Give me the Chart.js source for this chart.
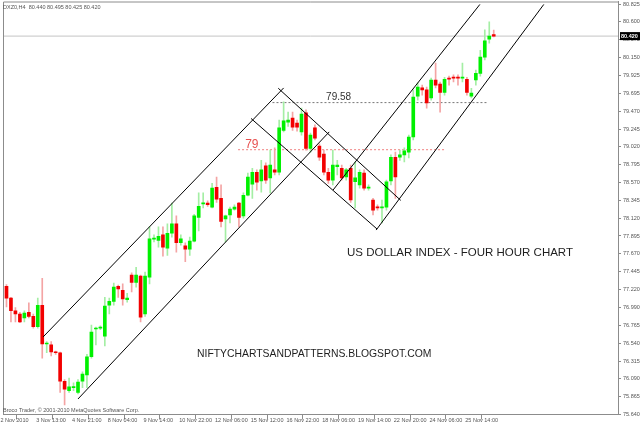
<!DOCTYPE html>
<html>
<head>
<meta charset="utf-8">
<script src="https://cdn.jsdelivr.net/npm/chart.js@4.4.0/dist/chart.umd.min.js"></script>
<style>
html, body { margin: 0; padding: 0; background: #fff; }
#wrap { width: 640px; height: 426px; }
</style>
</head>
<body>
<div id="wrap"><canvas id="mainChart" width="640" height="426"></canvas></div>
<script>
// DXZ0 four hour bars, 2 Nov - 25 Nov 2010
const timeLabels = ['2 Nov 2010', '3 Nov 13:00', '4 Nov 21:00', '8 Nov 04:00', '9 Nov 14:00', '10 Nov 22:00',
    '12 Nov 06:00', '15 Nov 12:00', '16 Nov 22:00', '18 Nov 06:00', '19 Nov 14:00', '22 Nov 20:00',
    '24 Nov 06:00', '25 Nov 14:00'];
const labelBars = [0, 8, 16, 24, 32, 40, 48, 56, 64, 72, 80, 88, 96, 104];

const open = [
    77.34, 77.26, 77.11, 76.95, 76.91, 76.86, 76.93, 76.88, 76.75, 77.02,
    76.53, 76.52, 76.43, 76.42, 76.06, 75.94, 75.98, 75.92, 76.06, 76.14,
    76.37, 76.72, 76.73, 76.63, 77.02, 77.07, 77.26, 77.21, 77.09, 77.40,
    77.31, 77.39, 76.91, 77.375, 77.856, 77.84, 77.91, 77.74, 77.93, 78.05,
    77.81, 77.77, 77.73, 77.83, 78.13, 78.30, 78.31, 78.26, 78.51, 78.37,
    78.11, 78.16, 78.235, 78.31, 78.15, 78.41, 78.55, 78.70, 78.59, 78.78,
    78.63, 78.73, 78.70, 79.23, 79.334, 79.385, 79.32, 79.21, 79.45, 79.00,
    79.26, 79.03, 78.93, 78.70, 78.60, 78.77, 78.75, 78.64, 78.75, 78.58,
    78.54, 78.69, 78.50, 78.35, 78.26, 78.25, 78.26, 78.59, 78.89, 78.89,
    78.92, 78.955, 79.145, 79.66, 79.765, 79.74, 79.64, 79.865, 79.815, 79.71,
    79.89, 79.90, 79.90, 79.89, 79.875, 79.66, 79.865, 79.95, 80.155, 80.38,
    80.44
];
const high = [
    77.36, 77.28, 77.12, 76.99, 76.93, 76.95, 77.05, 76.91, 77.11, 77.36,
    76.56, 76.56, 76.44, 76.43, 76.08, 76.10, 76.04, 76.08, 76.18, 76.40,
    76.77, 76.745, 76.76, 77.12, 77.11, 77.30, 77.275, 77.29, 77.17, 77.43,
    77.50, 77.40, 77.44, 78.01, 77.91, 78.01, 78.01, 78.05, 78.31, 78.15,
    77.91, 77.81, 77.88, 78.17, 78.44, 78.44, 78.34, 78.56, 78.64, 78.54,
    78.16, 78.26, 78.29, 78.32, 78.44, 78.69, 78.75, 78.73, 78.85, 78.82,
    78.98, 79.01, 79.36, 79.59, 79.46, 79.46, 79.36, 79.51, 79.49, 79.195,
    79.30, 79.06, 78.98, 78.75, 78.98, 78.85, 78.79, 78.75, 78.79, 78.83,
    78.73, 78.73, 78.54, 78.37, 78.29, 78.35, 78.60, 78.92, 78.955, 78.98,
    79.01, 79.17, 79.74, 79.83, 79.80, 79.775, 79.89, 80.08, 79.84, 79.90,
    79.915, 79.93, 79.93, 80.08, 79.90, 79.76, 79.99, 80.24, 80.50, 80.60,
    80.495
];
const low = [
    77.21, 77.00, 76.81, 76.81, 76.80, 76.81, 76.86, 76.73, 76.73, 76.35,
    76.42, 76.38, 76.40, 75.92, 75.76, 75.92, 75.94, 75.90, 75.98, 75.98,
    76.35, 76.52, 76.71, 76.505, 76.91, 77.02, 77.12, 77.02, 77.06, 77.19,
    77.25, 76.81, 76.88, 77.29, 77.82, 77.755, 77.64, 77.65, 77.88, 77.69,
    77.78, 77.57, 77.65, 77.82, 77.96, 78.25, 78.27, 78.25, 78.32, 78.01,
    77.82, 78.06, 78.22, 78.01, 78.12, 78.40, 78.37, 78.475, 78.45, 78.56,
    78.44, 78.665, 78.665, 79.21, 79.28, 79.23, 79.22, 79.17, 78.98, 78.955,
    79.11, 78.85, 78.665, 78.56, 78.54, 78.665, 78.60, 78.60, 78.32, 78.25,
    78.50, 78.475, 78.475, 78.16, 78.22, 78.06, 78.22, 78.54, 78.37, 78.85,
    78.83, 78.88, 79.11, 79.61, 79.675, 79.51, 79.61, 79.765, 79.46, 79.675,
    79.80, 79.84, 79.80, 79.84, 79.675, 79.64, 79.80, 79.915, 80.12, 80.33,
    80.41
];
const close = [
    77.25, 77.11, 76.95, 76.91, 76.81, 76.92, 76.88, 76.75, 77.02, 76.53,
    76.54, 76.43, 76.42, 76.06, 75.96, 75.99, 75.99, 76.05, 76.15, 76.37,
    76.68, 76.73, 76.745, 77.01, 77.07, 77.25, 77.225, 77.10, 77.11, 77.31,
    77.40, 76.87, 77.39, 77.86, 77.87, 77.89, 77.755, 77.93, 78.05, 77.81,
    77.86, 77.73, 77.83, 78.15, 78.27, 78.31, 78.29, 78.50, 78.36, 78.08,
    78.15, 78.235, 78.26, 78.13, 78.41, 78.64, 78.70, 78.575, 78.73, 78.60,
    78.79, 78.70, 79.26, 79.35, 79.359, 79.27, 79.27, 79.435, 79.00, 79.17,
    79.13, 78.89, 78.70, 78.60, 78.79, 78.79, 78.63, 78.73, 78.35, 78.63,
    78.70, 78.50, 78.51, 78.22, 78.25, 78.26, 78.58, 78.89, 78.64, 78.92,
    78.97, 79.145, 79.65, 79.775, 79.74, 79.575, 79.865, 79.80, 79.71, 79.875,
    79.875, 79.89, 79.89, 79.90, 79.71, 79.70, 79.95, 80.155, 80.36, 80.42,
    80.42
];

const priceTicks = [75.640, 75.865, 76.090, 76.315, 76.540, 76.765, 76.990, 77.220, 77.445, 77.670,
    77.895, 78.120, 78.345, 78.570, 78.795, 79.020, 79.245, 79.470, 79.695, 79.925,
    80.150, 80.375, 80.600, 80.825];

// hand drawn channel lines: [bar, price] -> [bar, price]
const channelLines = [
    [[9.2, 76.62], [63.0, 79.765]],
    [[17.0, 75.836], [73.2, 79.21]],
    [[61.8, 79.761], [89.2, 78.345]],
    [[55.7, 79.38], [83.9, 77.983]],
    [[74.05, 78.475], [106.9, 80.82]],
    [[83.7, 77.97], [121.2, 80.82]]
];
// horizontal levels: price, from bar, to bar
const levelHigh = [79.58, 60.5, 108.7];
const levelLow = [78.985, 52.8, 98.9];

const xMin = 0.22, xMax = 137.8;
const yMin = 75.64, yMax = 80.857;
const lastPrice = close[close.length - 1];

document.addEventListener("DOMContentLoaded", () => {
    const ctx = document.getElementById('mainChart');
    const up = close.map((c, i) => c >= open[i]);
    const font = '"Liberation Sans", Arial, sans-serif';

    const extras = {
        id: 'extras',
        afterDraw(chart) {
            const { ctx, chartArea: a, scales: { x, y } } = chart;
            ctx.save();
            ctx.strokeStyle = '#8c8c8c';
            ctx.lineWidth = 1;
            ctx.beginPath();
            ctx.moveTo(a.left + 0.5, a.bottom);
            ctx.lineTo(a.left + 0.5, a.top + 0.5);
            ctx.lineTo(a.right, a.top + 0.5);
            ctx.stroke();

            ctx.textBaseline = 'middle';
            ctx.font = '5.5px ' + font;
            ctx.fillStyle = '#555';
            ctx.fillText('DXZ0,H4  80.440 80.495 80.425 80.420', 3, 7);
            ctx.fillText('Broco Trader, \u00a9 2001-2010 MetaQuotes Software Corp.', 3, 410.5);

            // current price tag
            const py = y.getPixelForValue(lastPrice);
            ctx.fillStyle = '#000';
            ctx.fillRect(a.right + 2, py - 4, 20, 8);
            ctx.fillStyle = '#fff';
            ctx.font = 'bold 5.5px ' + font;
            ctx.fillText(lastPrice.toFixed(3), a.right + 3, py);

            // level labels
            ctx.textBaseline = 'alphabetic';
            ctx.font = '10px ' + font;
            ctx.fillStyle = '#333';
            ctx.fillText('79.58', x.getPixelForValue(72.5), y.getPixelForValue(levelHigh[0]) - 2.5);
            ctx.font = '12px ' + font;
            ctx.fillStyle = '#e8504f';
            ctx.fillText('79', x.getPixelForValue(54.4), y.getPixelForValue(levelLow[0]) - 2);

            ctx.font = '11.5px ' + font;
            ctx.fillStyle = '#1e1e1e';
            ctx.fillText('US DOLLAR INDEX - FOUR HOUR CHART', 347, 256);
            ctx.font = '10.4px ' + font;
            ctx.fillText('NIFTYCHARTSANDPATTERNS.BLOGSPOT.COM', 197, 357);
            ctx.restore();
        }
    };

    new Chart(ctx, {
        type: 'bar',
        data: {
            datasets: [
                ...channelLines.map(seg => ({
                    type: 'line',
                    data: seg.map(p => ({ x: p[0], y: p[1] })),
                    borderColor: '#000',
                    borderWidth: 1,
                    pointRadius: 0,
                    order: 0
                })),
                {
                    label: 'body',
                    data: open.map((o, i) => ({ x: i, y: [o, close[i]] })),
                    backgroundColor: up.map(u => u ? '#00f000' : '#f20000'),
                    barThickness: 3,
                    minBarLength: 1,
                    grouped: false,
                    order: 1
                },
                {
                    label: 'wick',
                    data: low.map((l, i) => ({ x: i, y: [l, high[i]] })),
                    backgroundColor: up.map(u => u ? '#a4eea4' : '#f4a4a4'),
                    barThickness: 1,
                    grouped: false,
                    order: 2
                },
                {
                    type: 'line',
                    data: [{ x: levelHigh[1], y: levelHigh[0] }, { x: levelHigh[2], y: levelHigh[0] }],
                    borderColor: '#777',
                    borderWidth: 1,
                    borderDash: [2, 2],
                    pointRadius: 0,
                    order: 3
                },
                {
                    type: 'line',
                    data: [{ x: levelLow[1], y: levelLow[0] }, { x: levelLow[2], y: levelLow[0] }],
                    borderColor: '#f08080',
                    borderWidth: 1,
                    borderDash: [2, 2],
                    pointRadius: 0,
                    order: 3
                },
                {
                    type: 'line',
                    data: [{ x: xMin, y: lastPrice }, { x: xMax, y: lastPrice }],
                    borderColor: '#c4c4c4',
                    borderWidth: 1,
                    pointRadius: 0,
                    order: 4
                }
            ]
        },
        options: {
            responsive: false,
            animation: false,
            devicePixelRatio: 1,
            layout: { padding: { left: 3, top: 1.5, right: 0, bottom: 0 } },
            plugins: { legend: { display: false }, tooltip: { enabled: false } },
            scales: {
                x: {
                    type: 'linear',
                    min: xMin,
                    max: xMax,
                    offset: false,
                    grid: { drawOnChartArea: false, drawTicks: true, tickLength: 5, color: '#8c8c8c' },
                    border: { color: '#8c8c8c' },
                    afterBuildTicks: axis => { axis.ticks = labelBars.map(b => ({ value: b - 0.7 })); },
                    afterFit: axis => { axis.height = 11.5; axis.paddingLeft = 0; axis.paddingRight = 0; },
                    ticks: {
                        autoSkip: false,
                        maxRotation: 0,
                        align: 'start',
                        padding: -2,
                        color: '#555',
                        font: { size: 5.5, family: font },
                        callback: (v, i) => ' ' + timeLabels[i]
                    }
                },
                y: {
                    position: 'right',
                    min: yMin,
                    max: yMax,
                    grid: { drawOnChartArea: false, drawTicks: true, tickLength: 3, color: '#8c8c8c' },
                    border: { color: '#8c8c8c' },
                    afterBuildTicks: axis => { axis.ticks = priceTicks.map(v => ({ value: v })); },
                    afterFit: axis => { axis.width = 22; axis.paddingTop = 0; axis.paddingBottom = 0; },
                    ticks: {
                        padding: 2,
                        color: '#555',
                        font: { size: 5.5, family: font },
                        callback: v => v.toFixed(3)
                    }
                }
            }
        },
        plugins: [extras]
    });
});
</script>
</body>
</html>
